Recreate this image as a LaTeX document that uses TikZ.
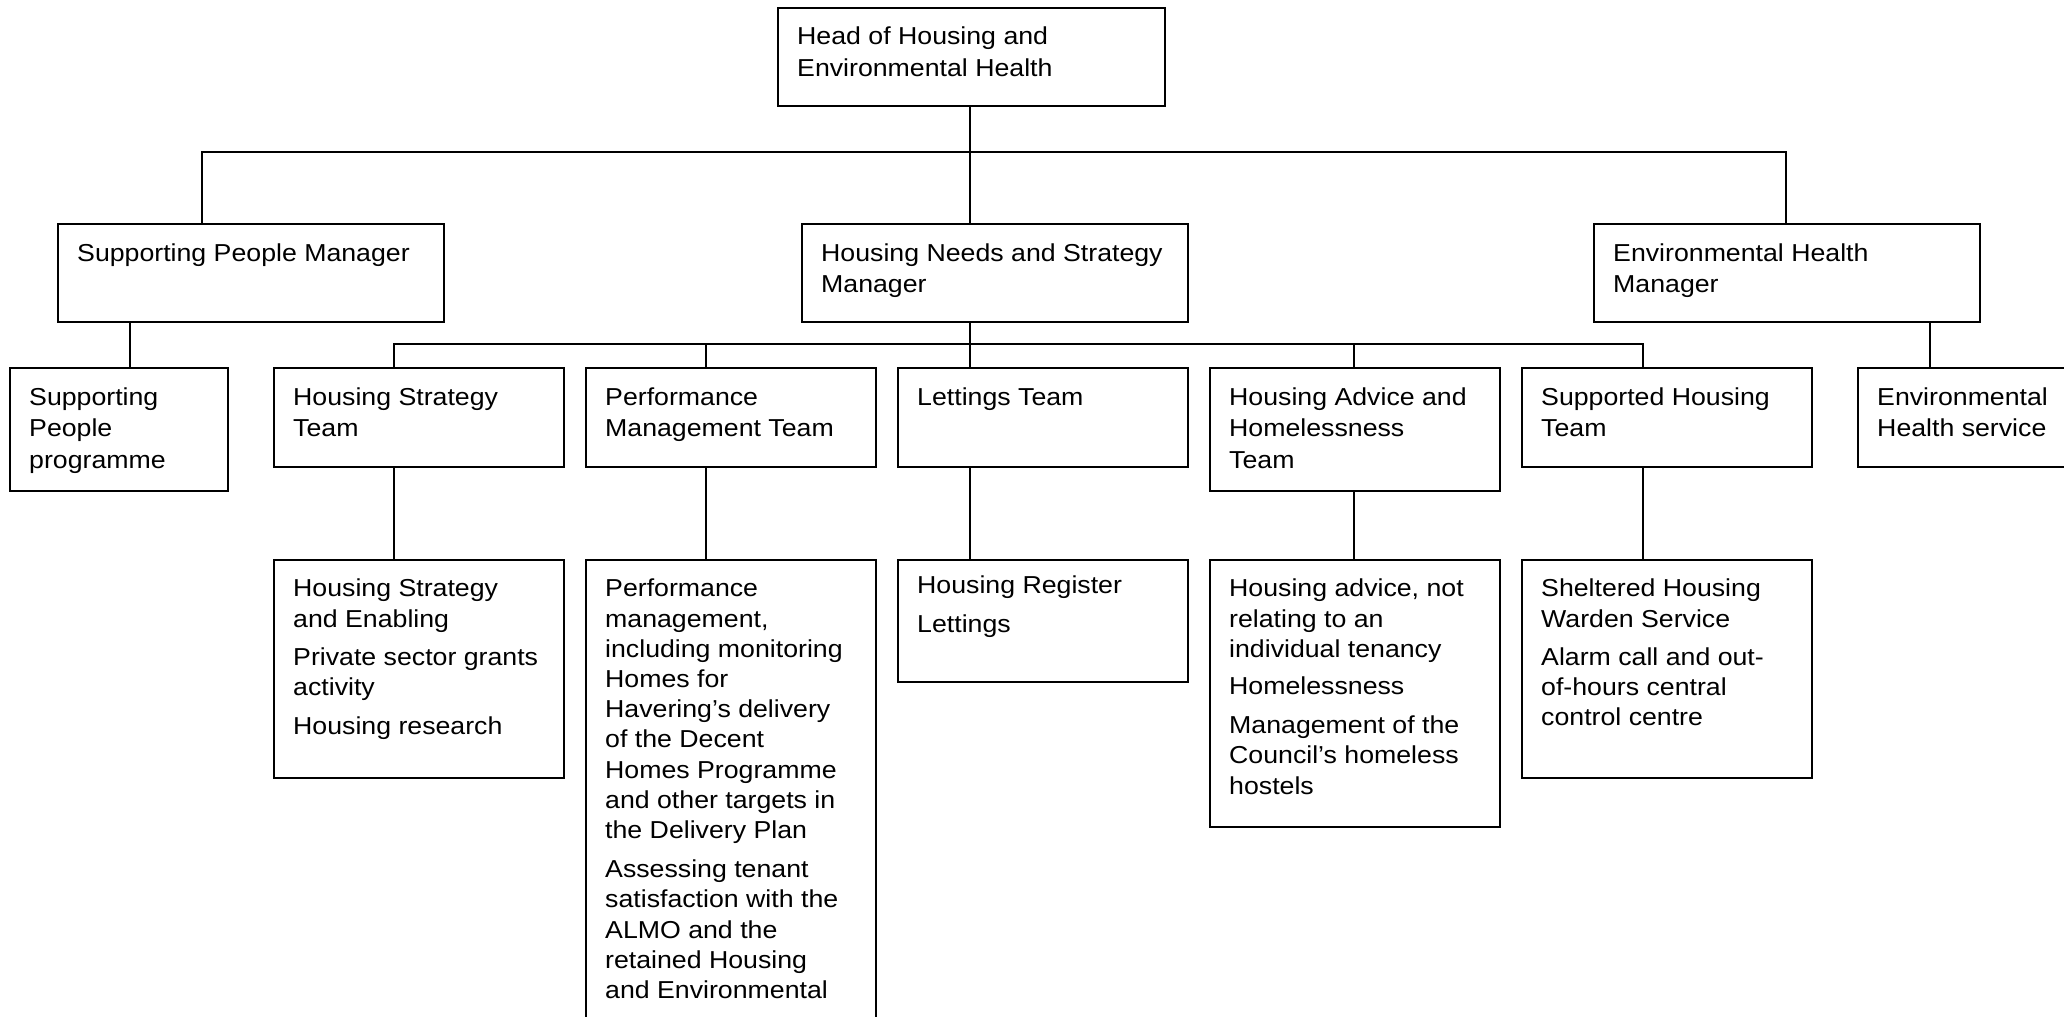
\documentclass[tikz,border=0pt]{standalone}
\usepackage{fontspec}
\setmainfont[FakeStretch=1.09]{Liberation Sans}
\newcommand\hfont{\fontsize{24.5}{31.5}\selectfont}
\newcommand\dfont{\fontsize{24.5}{30.2}\selectfont}
\newcommand\sr{\rule{0pt}{20pt}}
% name, x, y, w, h
\newcommand\obox[5]{\node[box,minimum width=#4pt,minimum height=#5pt] (#1) at (#2,#3) {};}
% name, style, baseline offset below top, text
\newcommand\otext[4]{\node[#2] (#1-t) at ([xshift=19pt,yshift=-#3pt+20pt]#1.north west) {\sr #4};}
\begin{document}
\begin{tikzpicture}[x=1pt,y=-1pt,
  box/.style={draw,line width=2pt,inner sep=0pt,outer sep=0pt,anchor=north west},
  htxt/.style={anchor=north west,inner sep=0pt,align=left,font=\hfont},
  dtxt/.style={anchor=north west,inner sep=0pt,align=left,font=\dfont},
  conn/.style={line width=2pt}]
\useasboundingbox (0,0) rectangle (2064,1017);
\clip (0,0) rectangle (2064,1017);

% level 0
\obox{head}{778}{8}{387}{98}
\otext{head}{htxt}{36.5}{Head of Housing and\\Environmental Health}

% level 1
\obox{spm}{58}{224}{386}{98}
\otext{spm}{htxt}{37}{Supporting People Manager}
\obox{hnsm}{802}{224}{386}{98}
\otext{hnsm}{htxt}{37}{Housing Needs and Strategy\\Manager}
\obox{ehm}{1594}{224}{386}{98}
\otext{ehm}{htxt}{37}{Environmental Health\\Manager}

% level 2
\obox{spp}{10}{368}{218}{123}
\otext{spp}{htxt}{37}{Supporting\\People\\programme}
\obox{hst}{274}{368}{290}{99}
\otext{hst}{htxt}{37}{Housing Strategy\\Team}
\obox{pmt}{586}{368}{290}{99}
\otext{pmt}{htxt}{37}{Performance\\Management Team}
\obox{lt}{898}{368}{290}{99}
\otext{lt}{htxt}{37}{Lettings Team}
\obox{haht}{1210}{368}{290}{123}
\otext{haht}{htxt}{37}{Housing Advice and\\Homelessness\\Team}
\obox{sht}{1522}{368}{290}{99}
\otext{sht}{htxt}{37}{Supported Housing\\Team}
\obox{ehs}{1858}{368}{290}{99}
\otext{ehs}{htxt}{37}{Environmental\\Health service}

% level 3
\obox{hsd}{274}{560}{290}{218}
\otext{hsd}{dtxt}{36.7}{Housing Strategy\\and Enabling\\[8pt]Private sector grants\\activity\\[9pt]Housing research}
\obox{pmd}{586}{560}{290}{500}
\otext{pmd}{dtxt}{36.7}{Performance\\management,\\including monitoring\\Homes for\\Havering’s delivery\\of the Decent\\Homes Programme\\and other targets in\\the Delivery Plan\\[9pt]Assessing tenant\\satisfaction with the\\ALMO and the\\retained Housing\\and Environmental}
\obox{ltd}{898}{560}{290}{122}
\otext{ltd}{dtxt}{33.5}{Housing Register\\[9pt]Lettings}
\obox{had}{1210}{560}{290}{267}
\otext{had}{dtxt}{36.7}{Housing advice, not\\relating to an\\individual tenancy\\[7pt]Homelessness\\[9pt]Management of the\\Council’s homeless\\hostels}
\obox{shd}{1522}{560}{290}{218}
\otext{shd}{dtxt}{36.7}{Sheltered Housing\\Warden Service\\[8pt]Alarm call and out-\\of-hours central\\control centre}

% connector coordinates
\coordinate (busL) at (202,152);
\coordinate (busM) at (970,152);
\coordinate (busR) at (1786,152);
\coordinate (c1) at (394,344);
\coordinate (c2) at (705.6,344);
\coordinate (c3) at (970,344);
\coordinate (c4) at (1354,344);
\coordinate (c5) at (1643,344);
\coordinate (d1) at (130,344);
\coordinate (e1) at (1930,344);

% connectors
\draw[conn] (head.south -| busM) -- (hnsm.north -| busM);
\draw[conn] (spm.north -| busL) -- (busL) -- (busR) -- (ehm.north -| busR);
\draw[conn] (spm.south -| d1) -- (spp.north -| d1);
\draw[conn] (ehm.south -| e1) -- (ehs.north -| e1);
\draw[conn] (hnsm.south -| c3) -- (lt.north -| c3);
\draw[conn] (hst.north -| c1) -- (c1) -- (c5) -- (sht.north -| c5);
\draw[conn] (c2) -- (pmt.north -| c2);
\draw[conn] (c4) -- (haht.north -| c4);
\draw[conn] (hst.south -| c1) -- (hsd.north -| c1);
\draw[conn] (pmt.south -| c2) -- (pmd.north -| c2);
\draw[conn] (lt.south -| c3) -- (ltd.north -| c3);
\draw[conn] (haht.south -| c4) -- (had.north -| c4);
\draw[conn] (sht.south -| c5) -- (shd.north -| c5);
\end{tikzpicture}
\end{document}
